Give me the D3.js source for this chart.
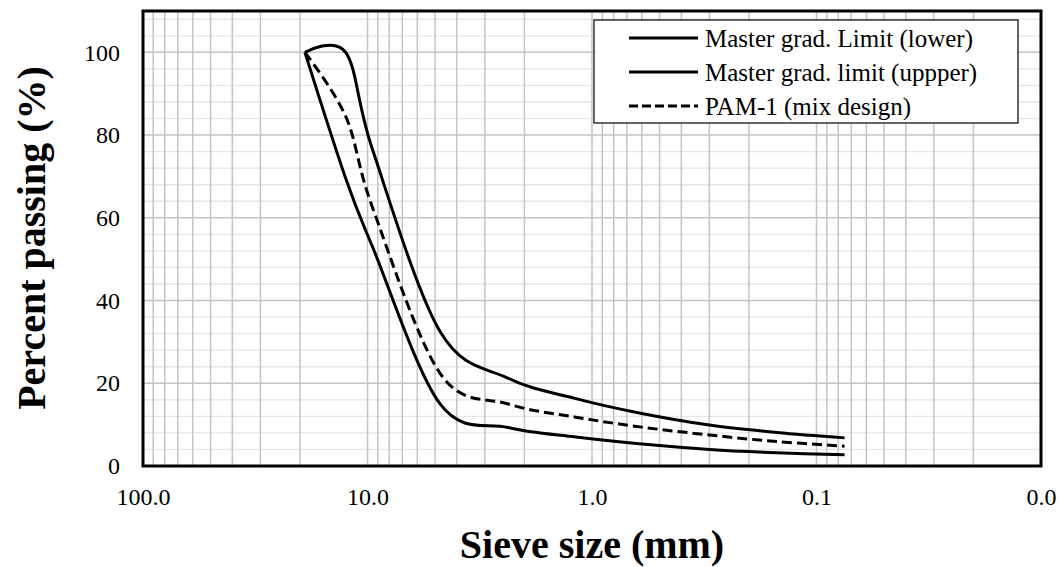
<!DOCTYPE html>
<html>
<head>
<meta charset="utf-8">
<script src="https://cdn.jsdelivr.net/npm/d3@7"></script>
<style>
  body { margin: 0; background: #fff; }
  svg { display: block; font-family: "Liberation Serif", "DejaVu Serif", serif; }
</style>
</head>
<body>
<div id="chart"></div>
<script>
// sieve sizes (mm) and percent passing
var sieves = [19, 12.5, 9.5, 4.75, 2.36, 1.18, 0.6, 0.3, 0.15, 0.075];
var lowerLimit = [100, 69.5, 53, 15, 9.3, 7.0, 5.3, 4.0, 3.2, 2.7];
var upperLimit = [100, 100, 76.5, 32.5, 21.2, 16.3, 12.7, 9.9, 8.1, 6.8];
var pamMix = [100, 84.5, 62.5, 22.4, 15.0, 11.8, 9.4, 7.5, 5.9, 4.8];

var seriesNames = ["Master grad. Limit (lower)", "Master grad. limit (uppper)", "PAM-1 (mix design)"];
var xTicks = [100, 10, 1, 0.1, 0.01];
var yTicks = [0, 20, 40, 60, 80, 100];

drawGradation();

/*
 * drawGradation()
 * Log x axis (sieve size, reversed), linear y axis (percent passing),
 * two limit curves and the mix design curve, smoothed like the Excel original.
 */
function drawGradation() {
	var W = 1060, H = 567;
	// plot box
	var pL = 143, pR = 1041, pT = 11, pB = 466;

	var svg = d3.select("#chart").append("svg").attr("width", W).attr("height", H);

	var x = d3.scaleLog().domain([100, 0.01]).range([pL, pR]);
	var y = d3.scaleLinear().domain([0, 110]).range([pB, pT]);

	// gridlines
	var grid = svg.append("g");
	var minorY = d3.range(4, 110, 4).filter(function(v) { return v % 20 != 0; });
	grid.selectAll("line.my").data(minorY).enter().append("line")
		.attr("x1", pL).attr("x2", pR)
		.attr("y1", function(d) { return y(d); }).attr("y2", function(d) { return y(d); })
		.attr("stroke", "#e6e6e6").attr("stroke-width", 1.3);

	var vLines = [];
	[0.01, 0.1, 1, 10].forEach(function(dec) {
		for (var k = 1; k <= 9; k++) vLines.push(dec * k);
	});
	grid.selectAll("line.v").data(vLines).enter().append("line")
		.attr("x1", function(d) { return x(d); }).attr("x2", function(d) { return x(d); })
		.attr("y1", pT).attr("y2", pB)
		.attr("stroke", "#c4c4c4").attr("stroke-width", 1.5);

	grid.selectAll("line.my2").data(yTicks.slice(1)).enter().append("line")
		.attr("x1", pL).attr("x2", pR)
		.attr("y1", function(d) { return y(d); }).attr("y2", function(d) { return y(d); })
		.attr("stroke", "#c4c4c4").attr("stroke-width", 1.5);

	// axes (labels only)
	var xAxis = svg.append("g").attr("transform", "translate(0," + pB + ")")
		.call(d3.axisBottom(x).tickValues(xTicks).tickSize(0).tickPadding(22).tickFormat(d3.format(".1f")));
	xAxis.select(".domain").remove();
	xAxis.selectAll("text").attr("font-size", 24).attr("font-family", "Liberation Serif").attr("fill", "#000");

	var yAxis = svg.append("g").attr("transform", "translate(" + pL + ",0)")
		.call(d3.axisLeft(y).tickValues(yTicks).tickSize(0).tickPadding(23));
	yAxis.select(".domain").remove();
	yAxis.selectAll("text").attr("font-size", 24).attr("font-family", "Liberation Serif").attr("fill", "#000");

	// curves
	var line = d3.line()
		.x(function(d) { return x(d[0]); })
		.y(function(d) { return y(d[1]); })
		.curve(d3.curveCatmullRom.alpha(0));

	var allSeries = [lowerLimit, upperLimit, pamMix];
	allSeries.forEach(function(vals, i) {
		svg.append("path")
			.datum(d3.zip(sieves, vals))
			.attr("d", line)
			.attr("fill", "none")
			.attr("stroke", "#000")
			.attr("stroke-width", 3)
			.attr("stroke-dasharray", i == 2 ? "10,5" : null);
	});

	// plot border
	svg.append("rect").attr("x", pL).attr("y", pT)
		.attr("width", pR - pL).attr("height", pB - pT)
		.attr("fill", "none").attr("stroke", "#000").attr("stroke-width", 3);

	// legend
	var lg = svg.append("g");
	lg.append("rect").attr("x", 594).attr("y", 20).attr("width", 424).attr("height", 103)
		.attr("fill", "#fff").attr("stroke", "#000").attr("stroke-width", 1.2);
	seriesNames.forEach(function(name, i) {
		var ly = 38 + i * 34;
		lg.append("line").attr("x1", 629).attr("x2", 698).attr("y1", ly).attr("y2", ly)
			.attr("stroke", "#000").attr("stroke-width", 3)
			.attr("stroke-dasharray", i == 2 ? "9,4" : null);
		lg.append("text").attr("x", 705).attr("y", ly).attr("dy", "0.35em")
			.attr("font-size", 25).text(name);
	});

	// axis titles
	svg.append("text").attr("x", 592).attr("y", 558)
		.attr("text-anchor", "middle").attr("font-size", 40).attr("font-weight", "bold")
		.text("Sieve size (mm)");
	svg.append("text").attr("transform", "translate(45,238) rotate(-90)")
		.attr("text-anchor", "middle").attr("font-size", 40).attr("font-weight", "bold")
		.text("Percent passing (%)");
}
</script>
</body>
</html>
